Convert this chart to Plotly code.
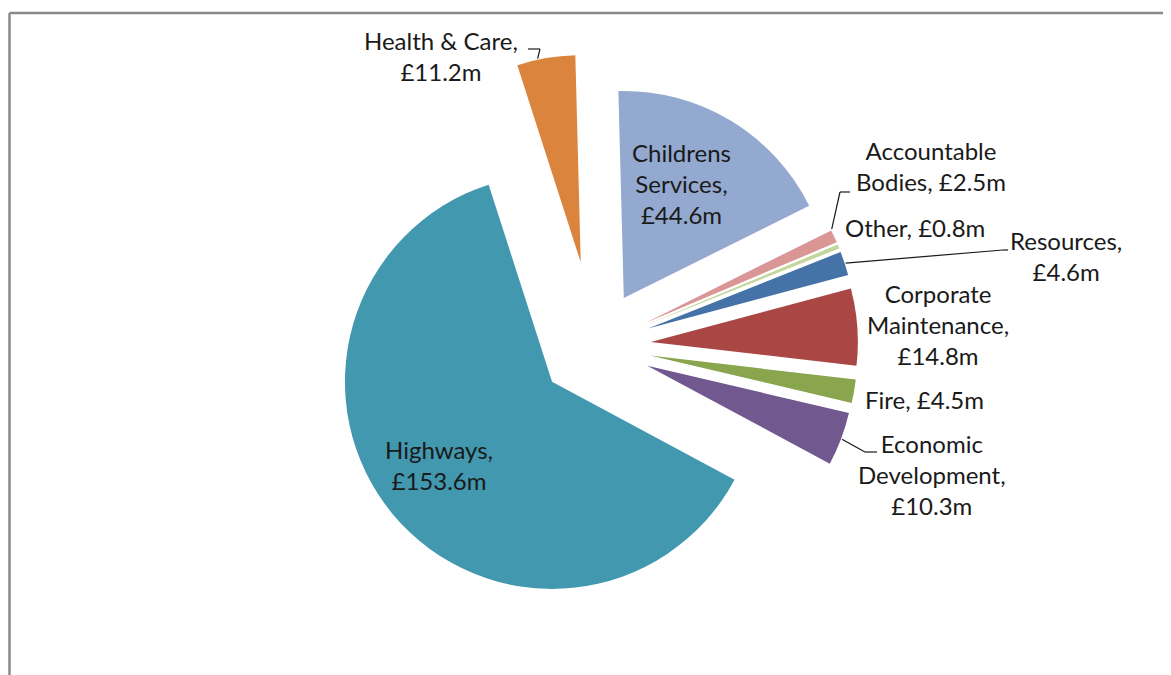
import math
import plotly.graph_objects as go

# ---------------- data ----------------
categories = ["Childrens Services", "Accountable Bodies", "Other", "Resources",
              "Corporate Maintenance", "Fire", "Economic Development", "Highways",
              "Health & Care"]
values = [44.6, 2.5, 0.8, 4.6, 14.8, 4.5, 10.3, 153.6, 11.2]
label_templates = [
    "Childrens<br>Services,<br>£{v}m",
    "Accountable<br>Bodies, £{v}m",
    "Other, £{v}m",
    "Resources,<br>£{v}m",
    "Corporate<br>Maintenance,<br>£{v}m",
    "Fire, £{v}m",
    "Economic<br>Development,<br>£{v}m",
    "Highways,<br>£{v}m",
    "Health & Care,<br>£{v}m",
]

# ---------------- style ----------------
colors = ["#93A9CF", "#D99694", "#C3D69B", "#4572A7", "#AA4643",
          "#89A54E", "#71588F", "#4198AF", "#DB843D"]
pulls = [0.27, 0.27, 0.27, 0.27, 0.27, 0.27, 0.27, 0.27, 0.41]
ROT = -1.5

# page coordinates (the HTML body adds an 8px margin)
PAGE_W, PAGE_H, OFF = 1171, 675, 8
W, H = PAGE_W, PAGE_H
CX, CY, BOX = 595, 346, 584          # page px
R = BOX / (2 + 2 * max(pulls))

# label block centres (page px)
label_pos = [(682, 184), (931, 166), (915, 227), (1066, 256), (938, 324),
             (924, 399), (932, 474), (439, 465), (441, 56)]
# leader lines: slice index -> (attach fraction within slice, [label-side points, page px])
leaders = {
    8: (0.4, [(540, 49), (528, 49)]),
    1: (0.05, [(840, 192), (850, 192)]),
    3: (0.5, [(1003, 250), (1008, 250)]),
    6: (0.5, [(865, 452), (877, 452)]),
}


def px(x, y):
    return (x - OFF) / W, 1 - (y - OFF) / H


total = sum(values)
cum = [sum(values[:i]) for i in range(len(values))]

dx0, dy1 = px(CX - BOX / 2, CY - BOX / 2)
dx1, dy0 = px(CX + BOX / 2, CY + BOX / 2)

fig = go.Figure(go.Pie(
    labels=categories,
    values=values,
    sort=False,
    direction="clockwise",
    rotation=ROT,
    pull=pulls,
    textinfo="none",
    hoverinfo="label+value",
    marker=dict(colors=colors, line=dict(width=0)),
    domain=dict(x=[dx0, dx1], y=[dy0, dy1]),
))

font = dict(family="Lato, Carlito, sans-serif", size=24, color="#1a1a1a")
annotations = []
for i, (name, v) in enumerate(zip(categories, values)):
    x, y = px(*label_pos[i])
    annotations.append(dict(
        x=x, y=y, xref="paper", yref="paper", showarrow=False,
        text=label_templates[i].format(v=v), align="center",
        xanchor="center", yanchor="middle", font=font))

shapes = []
for i, (frac, pts) in leaders.items():
    ang = math.radians(ROT) + (cum[i] + frac * values[i]) / total * 2 * math.pi
    dist = R * (1 + pulls[i]) + 1
    sx = CX + dist * math.sin(ang)
    sy = CY - dist * math.cos(ang)
    path = [(sx, sy)] + pts
    for (x0, y0), (x1, y1) in zip(path[:-1], path[1:]):
        a0, b0 = px(x0, y0)
        a1, b1 = px(x1, y1)
        shapes.append(dict(type="line", xref="paper", yref="paper",
                           x0=a0, y0=b0, x1=a1, y1=b1,
                           line=dict(color="#1a1a1a", width=1.2)))

# chart frame (top and left visible)
fx0, fy0 = px(9.5, 13)
fx1, fy1 = px(PAGE_W + 10, PAGE_H + 10)
shapes.append(dict(type="line", xref="paper", yref="paper", x0=fx0, y0=fy0,
                   x1=fx1, y1=fy0, line=dict(color="#8a8a8a", width=2.5)))
shapes.append(dict(type="line", xref="paper", yref="paper", x0=fx0, y0=fy0,
                   x1=fx0, y1=fy1, line=dict(color="#8a8a8a", width=2.5)))

fig.update_layout(
    width=W, height=H,
    margin=dict(l=0, r=0, t=0, b=0),
    paper_bgcolor="white", plot_bgcolor="white",
    showlegend=False,
    annotations=annotations,
    shapes=shapes,
)

fig.write_html("out.html")
